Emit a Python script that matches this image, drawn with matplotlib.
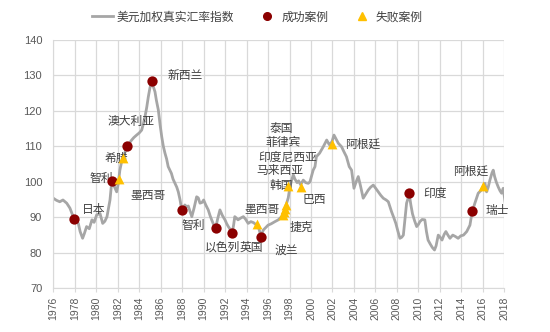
import matplotlib
matplotlib.use("Agg")
import matplotlib.pyplot as plt
from matplotlib.lines import Line2D

plt.rcParams['font.family'] = ['Noto Sans CJK SC', 'DejaVu Sans']

# US dollar trade-weighted real exchange rate index
years = [
    1976.0, 1976.3, 1976.6, 1976.9, 1977.25, 1977.55, 1977.93, 1978.33, 1978.5, 1978.73,
    1978.9, 1979.1, 1979.35, 1979.6, 1979.8, 1980.04, 1980.35, 1980.6, 1980.8, 1981.0,
    1981.28, 1981.45, 1981.75, 1981.9, 1982.05, 1982.2, 1982.35, 1982.5, 1982.7, 1982.83,
    1983.05, 1983.3, 1983.5, 1983.76, 1984.0, 1984.23, 1984.4, 1984.54, 1984.7, 1984.85,
    1985.0, 1985.19, 1985.3, 1985.47, 1985.6, 1985.78, 1985.95, 1986.1, 1986.25, 1986.4,
    1986.55, 1986.7, 1987.0, 1987.15, 1987.33, 1987.5, 1987.64, 1987.8, 1987.96, 1988.1,
    1988.25, 1988.42, 1988.57, 1988.75, 1988.9, 1989.1, 1989.35, 1989.5, 1989.66, 1989.85,
    1990.0, 1990.2, 1990.43, 1990.6, 1990.75, 1990.95, 1991.12, 1991.3, 1991.52, 1991.75,
    1991.99, 1992.15, 1992.3, 1992.5, 1992.67, 1992.8, 1992.9, 1993.05, 1993.2, 1993.45,
    1993.7, 1993.9, 1994.15, 1994.4, 1994.65, 1994.94, 1995.15, 1995.34, 1995.55, 1995.8,
    1996.0, 1996.3, 1996.64, 1996.95, 1997.2, 1997.42, 1997.57, 1997.67, 1997.88, 1998.04,
    1998.2, 1998.35, 1998.5, 1998.7, 1998.85, 1999.03, 1999.28, 1999.5, 1999.74, 1999.9,
    2000.2, 2000.37, 2000.5, 2000.8, 2001.14, 2001.46, 2001.7, 2001.95, 2002.14, 2002.35,
    2002.54, 2002.85, 2003.05, 2003.3, 2003.56, 2003.78, 2004.0, 2004.2, 2004.4, 2004.6,
    2004.86, 2005.1, 2005.33, 2005.55, 2005.8, 2006.0, 2006.26, 2006.5, 2006.73, 2007.0,
    2007.2, 2007.5, 2007.7, 2007.9, 2008.1, 2008.28, 2008.45, 2008.6, 2008.75, 2008.9,
    2009.15, 2009.3, 2009.45, 2009.65, 2009.84, 2010.0, 2010.14, 2010.35, 2010.6, 2010.75,
    2010.9, 2011.1, 2011.3, 2011.5, 2011.65, 2011.85, 2012.0, 2012.2, 2012.4, 2012.56,
    2012.75, 2012.94, 2013.2, 2013.45, 2013.7, 2013.95, 2014.2, 2014.5, 2014.8, 2015.0,
    2015.26, 2015.57, 2015.8, 2016.0, 2016.2, 2016.35, 2016.5, 2016.66, 2016.85, 2016.97,
    2017.1, 2017.25, 2017.43, 2017.6, 2017.75, 2017.9, 2018.08,
]
index_values = [
    95.4, 94.8, 94.4, 94.9, 94.0, 92.6, 89.6, 88.3, 86.0, 84.1,
    85.5, 87.4, 86.8, 89.3, 88.6, 90.7, 91.1, 88.3, 88.9, 90.2,
    94.9, 100.3, 98.2, 97.2, 99.5, 103.3, 105.5, 107.1, 108.5, 110.1,
    110.8, 111.8, 112.5, 113.2, 113.8, 114.6, 116.5, 118.4, 121.0, 124.0,
    126.5, 128.5, 127.0, 125.4, 123.0, 120.3, 116.0, 112.7, 110.0, 108.1,
    106.5, 104.3, 102.4, 100.8, 99.6, 98.5, 97.2, 95.0, 92.1, 91.8,
    93.5, 93.0, 93.2, 91.5, 90.2, 92.5, 95.8, 95.5, 94.0, 94.2,
    94.9, 93.5, 92.1, 90.5, 89.3, 87.8, 87.0, 89.5, 92.1, 90.5,
    89.3, 88.2, 87.4, 86.5, 85.7, 88.0, 90.2, 89.8, 89.3, 89.8,
    90.2, 89.5, 88.3, 88.8, 88.5, 87.8, 86.8, 84.6, 86.4, 87.2,
    87.8, 88.2, 88.8, 89.3, 90.0, 90.7, 92.1, 93.4, 95.5, 98.6,
    100.5, 102.0, 100.8, 99.8, 100.3, 99.2, 100.5, 99.8, 99.6, 100.0,
    103.3, 104.3, 107.1, 108.1, 109.9, 111.8, 110.5, 111.3, 113.2, 112.0,
    110.9, 109.9, 108.6, 107.1, 104.3, 103.3, 98.2, 100.0, 101.5, 99.0,
    95.4, 96.6, 97.7, 98.5, 99.1, 98.3, 97.2, 96.2, 95.4, 94.9,
    94.4, 91.6, 90.0, 88.3, 86.0, 84.1, 84.4, 85.0, 89.5, 94.0,
    96.5, 93.5, 91.0, 89.0, 87.4, 88.0, 88.8, 89.4, 89.3, 86.0,
    83.6, 82.5, 81.5, 80.8, 82.0, 85.0, 84.5, 83.6, 85.2, 86.0,
    85.0, 84.1, 85.0, 84.6, 84.1, 84.8, 85.0, 86.0, 87.8, 91.5,
    94.0, 96.8, 97.5, 98.5, 99.6, 97.2, 98.5, 100.5, 102.5, 103.3,
    101.5, 100.0, 98.6, 97.5, 96.8, 98.2, 94.2,
]

# successful cases (circles)
success_years = [1977.93, 1981.45, 1982.83, 1985.18, 1988.0, 1991.12, 1992.67, 1995.34, 2009.17, 2015.0]
success_values = [89.6, 100.3, 110.1, 128.5, 92.1, 87.0, 85.6, 84.4, 96.8, 91.9]

# failed cases (triangles)
fail_years = [1982.12, 1982.45, 1994.94, 1997.4, 1997.5, 1997.58, 1997.67, 1997.82, 1999.03, 2001.95, 2016.0]
fail_values = [100.9, 106.7, 88.0, 90.8, 91.6, 92.4, 93.4, 98.9, 98.5, 110.8, 98.8]

# case labels: text, x, y (centre of the text)
case_labels = [
    ("日本", 1979.8, 92.1),
    ("智利", 1980.45, 101.1),
    ("希腊", 1981.9, 106.7),
    ("澳大利亚", 1983.23, 117.0),
    ("新西兰", 1988.26, 129.9),
    ("墨西哥", 1984.8, 96.3),
    ("智利", 1989.05, 87.8),
    ("以色列", 1991.75, 81.7),
    ("英国", 1994.47, 81.7),
    ("墨西哥", 1995.48, 92.3),
    ("波兰", 1997.73, 80.6),
    ("捷克", 1999.13, 87.2),
    ("泰国", 1997.27, 115.1),
    ("菲律宾", 1997.42, 111.0),
    ("印度尼西亚", 1997.85, 107.1),
    ("马来西亚", 1997.1, 103.2),
    ("韩国", 1997.2, 98.9),
    ("巴西", 2000.32, 95.1),
    ("阿根廷", 2004.82, 110.7),
    ("印度", 2011.54, 96.8),
    ("阿根廷", 2014.85, 103.1),
    ("瑞士", 2017.36, 91.8),
]

year_ticks = list(range(1976, 2019, 2))
value_ticks = list(range(70, 141, 10))

line_color = "#A6A6A6"
success_color = "#8B0000"
fail_color = "#FFC000"
grid_color = "#D9D9D9"
text_color = "#404040"
tick_color = "#595959"

fig = plt.figure(figsize=(5.5, 3.32), dpi=100)
ax = fig.add_axes([0.0969, 0.1316, 0.8200, 0.7479])

ax.plot(years, index_values, color=line_color, lw=2.0, zorder=2, solid_joinstyle="round")
ax.scatter(success_years, success_values, s=55, color=success_color, zorder=4, linewidths=0)
ax.scatter(fail_years, fail_values, s=50, marker="^", color=fail_color, zorder=4, linewidths=0)

for text, x, y in case_labels:
    ax.text(x, y, text, ha="center", va="center", fontsize=8.5, color=text_color, zorder=3)

ax.set_xlim(1976, 2018)
ax.set_ylim(70, 140)
ax.set_xticks(year_ticks)
ax.set_xticklabels([str(y) for y in year_ticks], rotation=90, fontsize=7.5, color=tick_color,
                   family=["Liberation Sans", "DejaVu Sans"])
ax.set_yticks(value_ticks)
ax.set_yticklabels([str(v) for v in value_ticks], fontsize=8, color=tick_color,
                   family=["Liberation Sans", "DejaVu Sans"])
ax.tick_params(axis="x", length=3, color=grid_color, pad=3)
ax.tick_params(axis="y", length=0, pad=8)
ax.grid(True, color=grid_color, lw=0.9, zorder=0)
ax.set_axisbelow(True)
for side in ax.spines:
    ax.spines[side].set_visible(False)
ax.spines["left"].set_visible(True)
ax.spines["bottom"].set_visible(True)
ax.spines["left"].set_color(grid_color)
ax.spines["bottom"].set_color(grid_color)

handles = [
    Line2D([], [], color=line_color, lw=2.0),
    Line2D([], [], ls="none", marker="o", ms=5.5, color=success_color),
    Line2D([], [], ls="none", marker="^", ms=5.5, color=fail_color),
]
fig.legend(handles, ["美元加权真实汇率指数", "成功案例", "失败案例"], loc="center",
           bbox_to_anchor=(0.468, 0.949), ncol=3, frameon=False, fontsize=8.5,
           labelcolor=text_color, handlelength=1.8, handletextpad=0.3, columnspacing=1.9)

fig.savefig("out.png", dpi=100)
